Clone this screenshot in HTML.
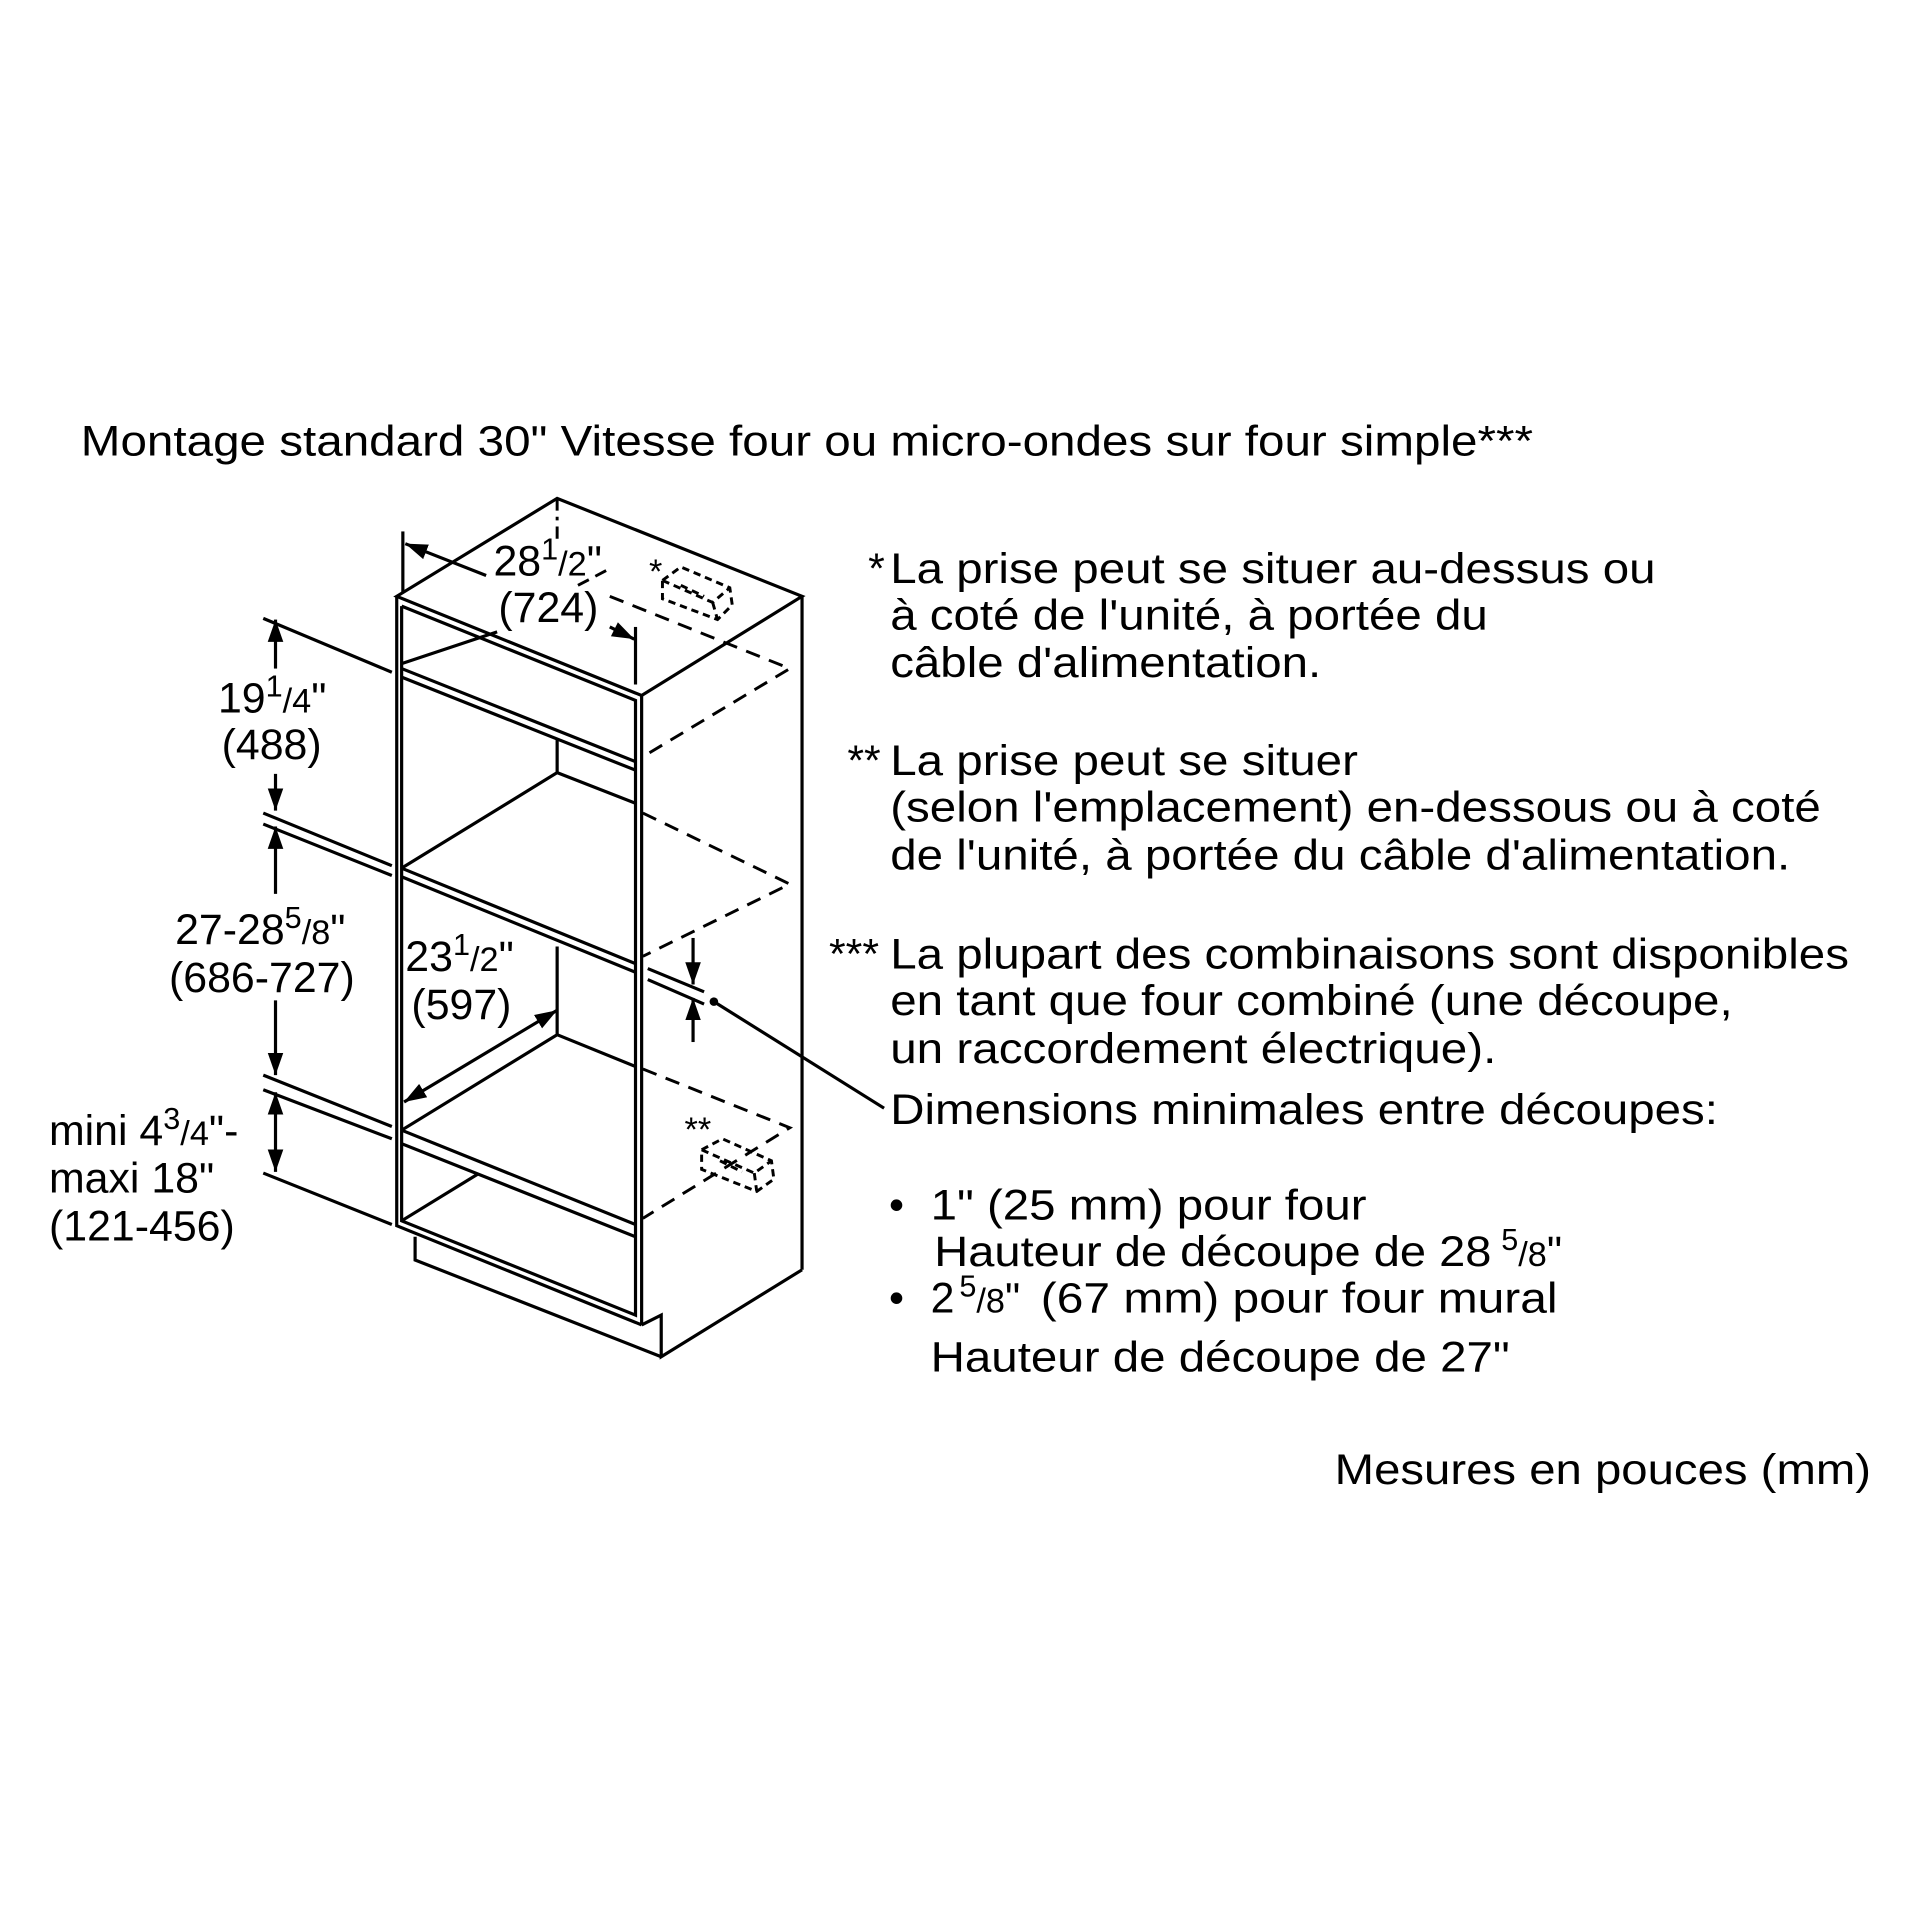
<!DOCTYPE html>
<html><head><meta charset="utf-8"><style>
html,body{margin:0;padding:0;background:#fff;}
svg{display:block;}
text{font-family:"Liberation Sans",sans-serif;fill:#000;font-size:35px;}
.s{font-size:25px;}
.f{font-size:28px;}
</style></head><body>
<svg width="1920" height="1920" viewBox="0 0 1568 1568" xmlns="http://www.w3.org/2000/svg">
<defs>
<marker id="a" viewBox="0 0 10 10" refX="10" refY="5" markerWidth="7" markerHeight="7" orient="auto-start-reverse"><path d="M0,1.5 L10,5 L0,8.5 z" fill="#000"/></marker>
</defs>
<g stroke="#000" stroke-width="2.6" fill="none" stroke-linejoin="miter">
<path d="M324,487 L455,407 L655,487 L524,568 Z"/>
<path d="M324,487 L324,1001 L524,1082"/>
<path d="M328,495 L328,997 L519,1074 L519,572 L328,495"/>
<line x1="524" y1="568" x2="524" y2="1082"/>
<line x1="655" y1="487" x2="655" y2="1037"/>
<path d="M655,1037 L540,1108 L540,1074 L524,1082"/>
<path d="M339,1010 L339,1029 L540,1108"/>
<line x1="328" y1="546" x2="519" y2="622"/>
<line x1="328" y1="553" x2="519" y2="629"/>
<line x1="328" y1="709" x2="519" y2="787"/>
<line x1="328" y1="716" x2="519" y2="794"/>
<line x1="328" y1="923" x2="519" y2="1000"/>
<line x1="328" y1="934" x2="519" y2="1010"/>
<line x1="328" y1="542" x2="406" y2="516"/>
<path d="M455,604 L455,631 L328,709"/>
<line x1="455" y1="631" x2="519" y2="656"/>
<path d="M455,773 L455,845 L328,923"/>
<line x1="455" y1="845" x2="519" y2="871"/>
<line x1="328" y1="997" x2="390" y2="959"/>
<line x1="329" y1="434" x2="329" y2="484"/>
<line x1="331" y1="444" x2="397" y2="470" marker-start="url(#a)"/>
<line x1="498" y1="512" x2="518" y2="522" marker-end="url(#a)"/>
<line x1="519" y1="512" x2="519" y2="559"/>
<line x1="330" y1="900" x2="455" y2="825" marker-start="url(#a)" marker-end="url(#a)"/>
<line x1="215" y1="505" x2="320" y2="549"/>
<line x1="215" y1="664" x2="320" y2="707"/>
<line x1="215" y1="673" x2="320" y2="715"/>
<line x1="215" y1="878" x2="320" y2="920"/>
<line x1="215" y1="890" x2="320" y2="930"/>
<line x1="215" y1="958" x2="320" y2="1000"/>
<line x1="225" y1="546" x2="225" y2="506" marker-end="url(#a)"/>
<line x1="225" y1="632" x2="225" y2="662" marker-end="url(#a)"/>
<line x1="225" y1="730" x2="225" y2="675" marker-end="url(#a)"/>
<line x1="225" y1="817" x2="225" y2="878" marker-end="url(#a)"/>
<line x1="225" y1="892" x2="225" y2="957" marker-start="url(#a)" marker-end="url(#a)"/>
<line x1="529" y1="791" x2="575" y2="810"/>
<line x1="529" y1="800" x2="575" y2="820"/>
<line x1="566" y1="766" x2="566" y2="804" marker-end="url(#a)"/>
<line x1="566" y1="851" x2="566" y2="815" marker-end="url(#a)"/>
<line x1="583" y1="818" x2="722" y2="905"/>
</g>
<circle cx="583" cy="818" r="3.5" fill="#000"/>
<g stroke="#000" stroke-width="2.4" fill="none" stroke-dasharray="12,8">
<line x1="455" y1="407" x2="455" y2="440" stroke-dasharray="10,5,3,5"/>
<line x1="472" y1="478" x2="495" y2="466" stroke-dasharray="10,6"/>
<path d="M498,487 L645,546 L525,618"/>
<path d="M525,664 L645,722 L525,781"/>
<path d="M525,873 L645,921 L525,995"/>
<path d="M541,474 L556,463 L596,480 L598,494 L586,506 L541,489 Z" stroke-dasharray="6,4"/>
<path d="M541,474 L582,492 L596,480 M582,492 L586,506 M556,478 L575,487" stroke-dasharray="6,4"/>
<path d="M573,939 L590,930 L630,948 L632,963 L618,973 L573,955 Z" stroke-dasharray="6,4"/>
<path d="M573,939 L616,958 L630,948 M616,958 L618,973 M588,948 L606,957" stroke-dasharray="6,4"/>
</g>
<text x="66" y="372" textLength="1186" lengthAdjust="spacingAndGlyphs">Montage standard 30" Vitesse four ou micro-ondes sur four simple***</text>
<text x="403" y="470">28<tspan class="s" dy="-13">1</tspan><tspan class="f" dy="13">/2</tspan>"</text>
<text x="407" y="508">(724)</text>
<text x="530" y="476" class="f">*</text>
<text x="178" y="582">19<tspan class="s" dy="-13">1</tspan><tspan class="f" dy="13">/4</tspan>"</text>
<text x="181" y="620">(488)</text>
<text x="143" y="771">27-28<tspan class="s" dy="-13">5</tspan><tspan class="f" dy="13">/8</tspan>"</text>
<text x="138" y="810">(686-727)</text>
<text x="331" y="793">23<tspan class="s" dy="-13">1</tspan><tspan class="f" dy="13">/2</tspan>"</text>
<text x="336" y="832">(597)</text>
<text x="40" y="935">mini 4<tspan class="s" dy="-13">3</tspan><tspan class="f" dy="13">/4</tspan>"-</text>
<text x="40" y="974">maxi 18"</text>
<text x="40" y="1013">(121-456)</text>
<text x="559" y="932" class="f">**</text>
<text x="709" y="476">*</text>
<text x="727" y="476" textLength="625" lengthAdjust="spacingAndGlyphs">La prise peut se situer au-dessus ou</text>
<text x="727" y="514" textLength="488" lengthAdjust="spacingAndGlyphs">à coté de l'unité, à portée du</text>
<text x="727" y="553" textLength="352" lengthAdjust="spacingAndGlyphs">câble d'alimentation.</text>
<text x="692" y="633">**</text>
<text x="727" y="633" textLength="382" lengthAdjust="spacingAndGlyphs">La prise peut se situer</text>
<text x="727" y="671" textLength="760" lengthAdjust="spacingAndGlyphs">(selon l'emplacement) en-dessous ou à coté</text>
<text x="727" y="710" textLength="735" lengthAdjust="spacingAndGlyphs">de l'unité, à portée du câble d'alimentation.</text>
<text x="677" y="791">***</text>
<text x="727" y="791" textLength="783" lengthAdjust="spacingAndGlyphs">La plupart des combinaisons sont disponibles</text>
<text x="727" y="829" textLength="688" lengthAdjust="spacingAndGlyphs">en tant que four combiné (une découpe,</text>
<text x="727" y="868" textLength="495" lengthAdjust="spacingAndGlyphs">un raccordement électrique).</text>
<text x="727" y="918" textLength="676" lengthAdjust="spacingAndGlyphs">Dimensions minimales entre découpes:</text>
<text x="726" y="996">•</text>
<text x="760" y="996" textLength="356" lengthAdjust="spacingAndGlyphs">1" (25 mm) pour four</text>
<text x="763" y="1034" textLength="455" lengthAdjust="spacingAndGlyphs">Hauteur de découpe de 28</text><text x="1226" y="1034"><tspan class="s" dy="-13">5</tspan><tspan class="f" dy="13">/8</tspan>"</text>
<text x="726" y="1072">•</text>
<text x="760" y="1072">2<tspan class="s" dx="4" dy="-13">5</tspan><tspan class="f" dy="13">/8</tspan>"</text>
<text x="850" y="1072" textLength="422" lengthAdjust="spacingAndGlyphs">(67 mm) pour four mural</text>
<text x="760" y="1120" textLength="473" lengthAdjust="spacingAndGlyphs">Hauteur de découpe de 27"</text>
<text x="1090" y="1212" textLength="438" lengthAdjust="spacingAndGlyphs">Mesures en pouces (mm)</text>
</svg>
</body></html>
